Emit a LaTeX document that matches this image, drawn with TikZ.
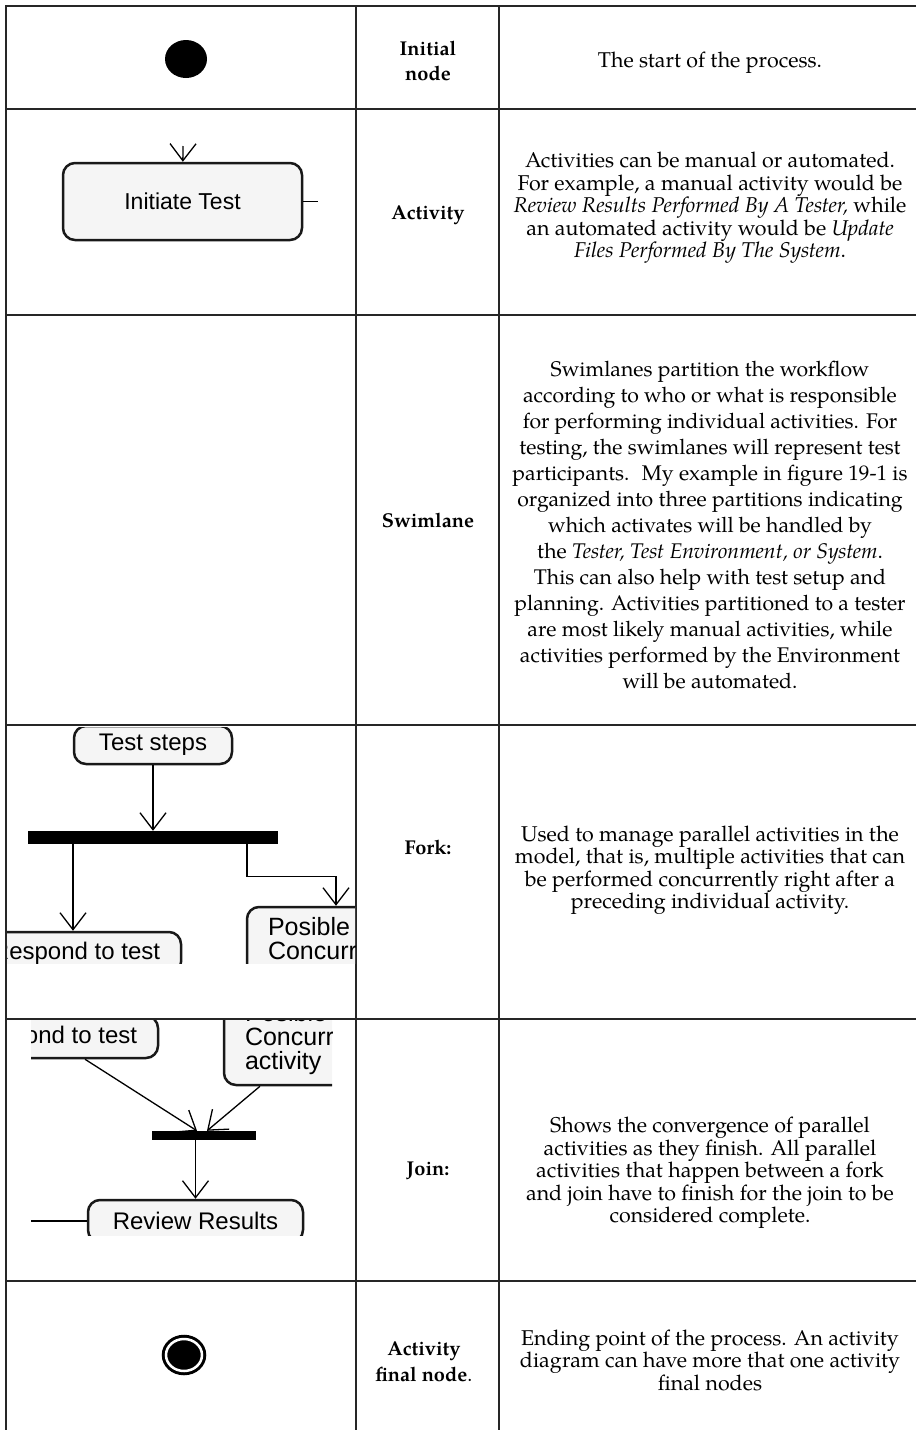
\documentclass[tikz,border=0pt]{standalone}
\usepackage{fontspec}
\setmainfont{TeX Gyre Pagella}
\newfontfamily\uifont{Liberation Sans}
\usetikzlibrary{arrows.meta, shapes.geometric}

\begin{document}
\begin{tikzpicture}[x=1pt, y=-1pt,
  grid/.style={line width=2pt, draw=black!85},
  desc/.style={align=center, inner sep=0pt, font=\fontsize{21.4}{22.5}\selectfont},
  swim/.style={desc, font=\fontsize{21.2}{26}\selectfont},
  lbl/.style={align=center, inner sep=0pt, font=\fontsize{20}{25.5}\selectfont\bfseries},
  act/.style={draw=black!90, line width=2.5pt, fill=black!4, rounded corners=12pt, inner sep=0pt, font=\uifont\fontsize{24}{24}\selectfont},
  concur/.style={act, minimum width=178pt, minimum height=92pt, align=left, text width=136pt, font=\uifont\fontsize{25}{24}\selectfont},
  bar/.style={fill=black, inner sep=0pt},
  flow/.style={line width=1.3pt, -{Straight Barb[length=17pt, width=26pt]}},
  wire/.style={line width=1.3pt}]
\useasboundingbox (0,0) rectangle (916,1430);
\draw[grid] (916,6) -| (6,1430);
\foreach \y in {109,315,725,1019,1281} \draw[grid] (6,\y) -- (916,\y);
\foreach \x in {356,499} \draw[grid] (\x,6) -- (\x,1430);

\node[ellipse, fill=black, minimum width=42pt, minimum height=38pt, inner sep=0pt] (init) at (186,59) {};
\node[lbl] (initlbl) at (428,61) {Initial\\node};
\node[desc] (initdesc) at (710,63) {The start of the process.};

\node[act, minimum width=239pt, minimum height=77pt, font=\uifont\fontsize{23}{23}\selectfont] (initiate) at (182.5,201.5) {Initiate Test};
\coordinate (actin) at (183,146);
\coordinate (actout) at (318,201.5);
\draw[flow] (actin) -- (initiate);
\draw[wire] (initiate.east) -- (actout);
\node[lbl] (actlbl) at (428,215) {Activity};
\node[desc] (actdesc) at (710,208) {Activities can be manual or automated.\\For example, a manual activity would be\\\textit{Review Results Performed By A Tester,} while\\an automated activity would be \textit{Update}\\\textit{Files Performed By The System}.};

\node[lbl] (swimlbl) at (428,520) {Swimlane};
\node[swim] (swimdesc) at (710,525) {Swimlanes partition the workflow\\according to who or what is responsible\\for performing individual activities. For\\testing, the swimlanes will represent test\\participants.~ My example in figure 19-1 is\\organized into three partitions indicating\\which activates will be handled by\\the \textit{Tester, Test Environment, or System}.\\This can also help with test setup and\\planning. Activities partitioned to a tester\\are most likely manual activities, while\\activities performed by the Environment\\will be automated.};

\begin{scope}
\clip (7,727) rectangle (355,963);
\node[act, minimum width=158pt, minimum height=38pt] (steps) at (153,745) {Test steps};
\node[bar, minimum width=250pt, minimum height=13pt] (fork) at (153,837.5) {};
\node[act, minimum width=210pt, minimum height=42pt] (respond) at (76,953) {Respond to test};
\node[concur] (posible) at (336,953) {Posible\\Concurrent\\activity};
\draw[flow] (steps) -- (fork);
\draw[flow] ([xshift=-80pt]fork.south) -- ([xshift=-80pt]fork.south |- respond.north);
\draw[flow] ([xshift=94pt]fork.south) -- ++(0,32) -| (posible.north);
\end{scope}
\node[lbl] (forklbl) at (428,847) {Fork:};
\node[desc] (forkdesc) at (710,870) {Used to manage parallel activities in the\\model, that is, multiple activities that can\\be performed concurrently right after a\\preceding individual activity.};

\begin{scope}
\clip (31,1020) rectangle (332,1235);
\node[act, minimum width=210pt, minimum height=42pt] (respondj) at (53,1037) {Respond to test};
\node[concur] (posiblej) at (313,1039) {Posible\\Concurrent\\activity};
\node[bar, minimum width=104pt, minimum height=9pt] (join) at (204,1135.5) {};
\node[act, minimum width=215pt, minimum height=42pt] (review) at (195.5,1221) {Review Results};
\coordinate (revin) at (20,1221);
\draw[flow] ([xshift=32pt]respondj.south) -- ([xshift=-7pt]join.north);
\draw[flow] ([xshift=-53pt]posiblej.south) -- ([xshift=3pt]join.north);
\draw[flow] (join.south -| review) -- (review);
\draw[wire] (revin) -- (review.west);
\end{scope}
\node[lbl] (joinlbl) at (428,1171) {Join:};
\node[desc] (joindesc) at (710,1173) {Shows the convergence of parallel\\activities as they finish. All parallel\\activities that happen between a fork\\and join have to finish for the join to be\\considered complete.};

\node[ellipse, fill=black, draw=black, double=white, double distance=2.5pt, line width=3pt, minimum width=36pt, minimum height=32pt, inner sep=0pt] (final) at (184,1355) {};
\node[lbl] (finallbl) at (424,1362) {Activity\\final node\textmd{.}};
\node[desc] (finaldesc) at (710,1360) {Ending point of the process. An activity\\diagram can have more that one activity\\final nodes};
\end{tikzpicture}
\end{document}
